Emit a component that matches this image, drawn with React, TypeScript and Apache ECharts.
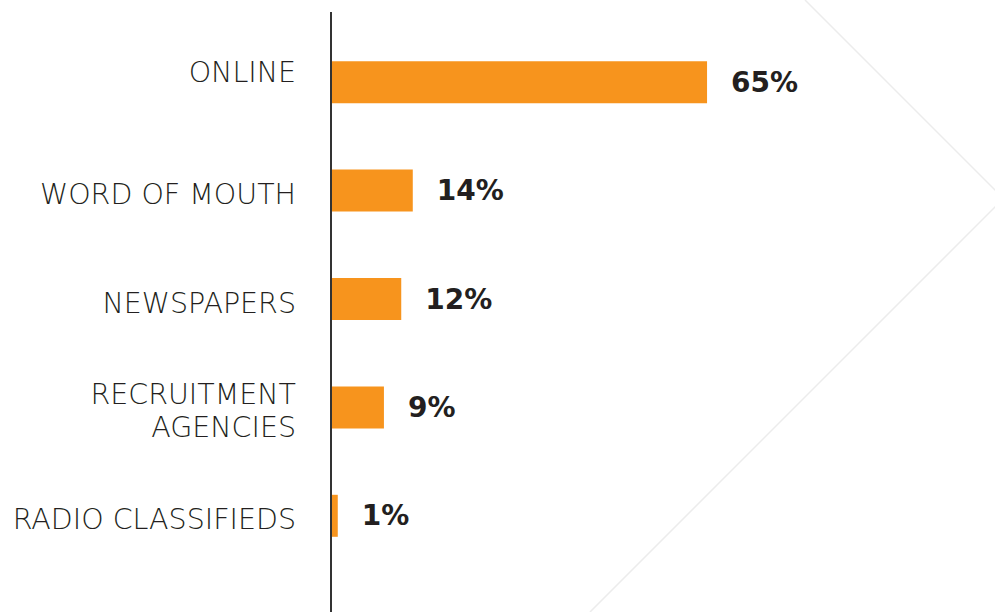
import React, { useEffect, useRef } from "react";
import * as echarts from "echarts";

const categories = ["ONLINE", "WORD OF MOUTH", "NEWSPAPERS", "RECRUITMENT\nAGENCIES", "RADIO CLASSIFIEDS"];
const values = [65, 14, 12, 9, 1];

const catFont = {
  color: "#231f20",
  fontFamily: "DejaVu Sans",
  fontWeight: 200,
  fontSize: 28.5,
  lineHeight: 33,
  align: "right" as const,
};

export default function App() {
  const ref = useRef<HTMLDivElement>(null);
  useEffect(() => {
    if (!ref.current) return;
    const chart = echarts.init(ref.current, null, { renderer: "svg" });
    chart.setOption({
      animation: false,
      backgroundColor: "#ffffff",
      grid: { left: 332, right: 86, top: 28, bottom: 42, containLabel: false },
      xAxis: {
        type: "value",
        min: 0,
        max: 100,
        show: false,
      },
      yAxis: {
        type: "category",
        inverse: true,
        data: categories,
        axisLine: { show: false },
        axisTick: { show: false },
        axisLabel: {
          margin: 36,
          ...catFont,
          formatter: (v: string) => {
            if (v === "ONLINE") return `{up|${v}}`;
            if (v.includes("\n")) return v.split("\n").map((s) => `{dn2|${s}}`).join("\n");
            return `{dn|${v}}`;
          },
          rich: {
            up: { ...catFont, padding: [0, 0, 20, 0] },
            dn: { ...catFont, padding: [8, 0, 0, 0] },
            dn2: { ...catFont, padding: [8, 0, 0, 0] },
          },
        },
      },
      graphic: [
        {
          type: "line",
          shape: { x1: 805, y1: 0, x2: 997, y2: 192 },
          style: { stroke: "#ececec", lineWidth: 1.5 },
          z: -1,
        },
        {
          type: "line",
          shape: { x1: 997, y1: 205, x2: 590, y2: 612 },
          style: { stroke: "#ececec", lineWidth: 1.5 },
          z: -1,
        },
        {
          type: "line",
          shape: { x1: 331, y1: 12, x2: 331, y2: 612 },
          style: { stroke: "#333333", lineWidth: 2 },
          z: 10,
        },
      ],
      series: [
        {
          type: "bar",
          data: values,
          barWidth: 42,
          itemStyle: { color: "#F7941D" },
          label: {
            show: true,
            position: "right",
            distance: 24,
            formatter: "{c}%",
            color: "#231f20",
            fontFamily: "DejaVu Sans",
            fontWeight: "bold",
            fontSize: 28,
          },
        },
      ],
    });
    return () => chart.dispose();
  }, []);
  return <div ref={ref} style={{ width: 995, height: 612, position: "absolute", left: 0, top: 0 }} />;
}
